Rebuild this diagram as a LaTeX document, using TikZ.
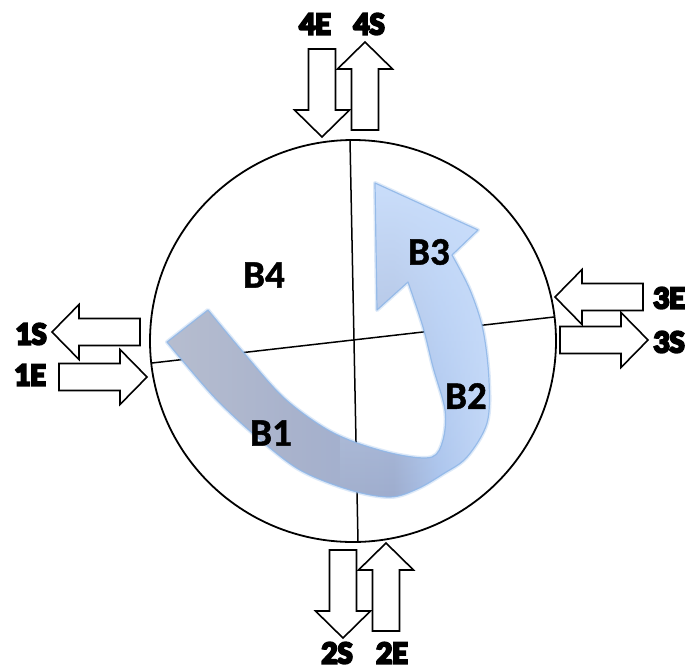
\documentclass[tikz,border=0pt]{standalone}
\usepackage{fontspec}
\setmainfont{Carlito}[BoldFeatures={FakeBold=1.2}]
\newfontfamily\heavy{Carlito}[BoldFeatures={FakeBold=7}]
\usetikzlibrary{fadings}
\definecolor{bandA}{HTML}{B6BDCF}
\definecolor{bandB}{HTML}{A8B2CC}
\definecolor{bandC}{HTML}{9EADCE}
\definecolor{bandD}{HTML}{ABC4EC}
\definecolor{bandE}{HTML}{C2D7F7}
\definecolor{headcol}{HTML}{CADEFB}
\definecolor{glowcol}{HTML}{8FB7E8}
\pgfdeclarehorizontalshading{bandshade}{100bp}{color(0bp)=(bandA); color(25bp)=(bandA); color(45bp)=(bandB); color(60bp)=(bandC); color(67bp)=(bandD); color(75bp)=(bandE); color(100bp)=(bandE)}
\tikzset{
  outline/.style={line width=1.8pt, draw=black},
  crossline/.style={line width=1.5pt, draw=black},
  outlab/.style={font=\heavy\bfseries\fontsize{32}{32}\selectfont, inner sep=0pt},
  blab/.style={font=\bfseries\fontsize{39}{39}\selectfont, inner sep=0pt},
  pics/blockarrow/.style={code={
    \draw[line width=1.6pt, fill=white, line join=miter]
      (0,0) -- (-27,27.5) -- (-27,13.5) -- (-88,13.5) -- (-88,-13.5) -- (-27,-13.5) -- (-27,-27.5) -- cycle;
  }}
}
\def\bandpath{(167,342) -- (208,310)
  -- plot[smooth,tension=0.55] coordinates {(208,310) (243,352) (283,397) (323,427) (357,443) (400,455) (432,457) (443,440) (445,410) (433,367) (423,327) (408,282)}
  -- (377,310) -- (375,183) -- (478,230) -- (452,255)
  -- plot[smooth,tension=0.55] coordinates {(452,255) (470,290) (483,330) (489,380) (487,423) (467,457) (443,474) (417,489) (390,497) (350,490) (300,470) (257,437) (217,400) (182,360) (167,342)}
  -- cycle}
\begin{document}
\begin{tikzpicture}[x=1pt,y=-1pt]
\useasboundingbox (0,0) rectangle (693,670);
% sphere
\draw[outline, fill=white] (353,341) ellipse [x radius=203, y radius=201];
\coordinate (vt) at (350,140);
\coordinate (vb) at (358,542);
\coordinate (hl) at (152,363);
\coordinate (hr) at (554,317);
\draw[crossline] (vt) -- (vb);
\draw[crossline] (hl) -- (hr);
% curved band arrow
\draw[glowcol, line width=4pt, opacity=0.3, line join=round] \bandpath;
\shade[shading=bandshade] \bandpath;
\begin{scope}
  \clip (340,0) rectangle (693,670);
  \fill[headcol, path fading=south] \bandpath;
\end{scope}
\draw[glowcol, line width=1.2pt, opacity=0.85, line join=round] \bandpath;
% block arrows
\pic[rotate=-90] (a4e) at (322,137) {blockarrow};
\pic[rotate=90] (a4s) at (365,42) {blockarrow};
\pic[rotate=180] (a3e) at (555,297) {blockarrow};
\pic[rotate=0] (a3s) at (648,340) {blockarrow};
\pic[rotate=180] (a1s) at (52,332) {blockarrow};
\pic[rotate=0] (a1e) at (147,377) {blockarrow};
\pic[rotate=-90] (a2s) at (343,638) {blockarrow};
\pic[rotate=90] (a2e) at (386,543) {blockarrow};
% outer labels
\node[outlab] (l4e) at (315,24) {4E};
\node[outlab] (l4s) at (369,24) {4S};
\node[outlab] (l3e) at (669,298) {3E};
\node[outlab] (l3s) at (669,342) {3S};
\node[outlab] (l1s) at (31,334) {1S};
\node[outlab] (l1e) at (30,375) {1E};
\node[outlab] (l2s) at (337,653) {2S};
\node[outlab] (l2e) at (392,653) {2E};
% inner labels
\node[blab] (b4) at (264,275) {B4};
\node[blab] (b3) at (429,252) {B3};
\node[blab] (b2) at (466,396) {B2};
\node[blab] (b1) at (271,433) {B1};
\end{tikzpicture}
\end{document}
